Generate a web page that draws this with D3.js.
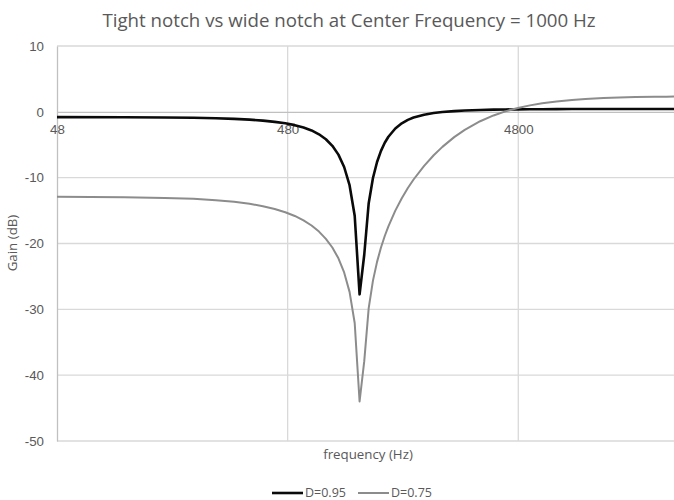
<!DOCTYPE html>
<html>
<head>
<meta charset="utf-8">
<script src="https://cdn.jsdelivr.net/npm/d3@7"></script>
<style>
  html, body { margin: 0; padding: 0; background: #ffffff; }
  svg { display: block; font-family: "Open Sans", "Liberation Sans", sans-serif; }
</style>
</head>
<body>
<svg id="chart" width="674" height="500"></svg>
<script>
// Frequency response samples (Hz) of the two notch filters, fs = 48 kHz
const freqHz = [
  46.875, 93.75, 140.625, 187.5, 234.375, 281.25, 328.125, 375, 421.875, 468.75,
  515.625, 562.5, 609.375, 656.25, 703.125, 750, 796.875, 843.75, 890.625, 937.5,
  984.375, 1031.25, 1078.125, 1125, 1171.875, 1218.75, 1265.625, 1312.5, 1406.25, 1500,
  1593.75, 1687.5, 1875, 2062.5, 2250, 2531.25, 2812.5, 3281.25, 3750, 4218.75,
  4781.25, 5390.625, 6093.75, 7031.25, 8203.125, 9375, 11250, 13125, 15468.75, 18750,
  21093.75, 24000
];

// Gain (dB) for the tight notch, D = 0.95
const gainD095 = [
  -0.80, -0.83, -0.86, -0.91, -0.98, -1.07, -1.19, -1.34, -1.52, -1.74,
  -2.02, -2.38, -2.83, -3.41, -4.16, -5.16, -6.50, -8.38, -11.15, -15.79,
  -27.72, -21.71, -13.88, -10.05, -7.62, -5.93, -4.70, -3.78, -2.53, -1.74,
  -1.22, -0.87, -0.43, -0.18, -0.03, 0.11, 0.20, 0.28, 0.33, 0.36,
  0.38, 0.39, 0.40, 0.41, 0.42, 0.43, 0.43, 0.44, 0.44, 0.44,
  0.44, 0.44
];

// Gain (dB) for the wide notch, D = 0.75
const gainD075 = [
  -12.90, -12.96, -13.07, -13.22, -13.42, -13.67, -13.97, -14.33, -14.75, -15.25,
  -15.82, -16.49, -17.27, -18.19, -19.29, -20.61, -22.25, -24.39, -27.35, -32.08,
  -44.00, -37.87, -29.81, -25.64, -22.79, -20.61, -18.86, -17.39, -15.01, -13.13,
  -11.58, -10.28, -8.20, -6.59, -5.32, -3.84, -2.74, -1.43, -0.55, 0.07,
  0.59, 0.98, 1.30, 1.58, 1.81, 1.95, 2.10, 2.19, 2.25, 2.30,
  2.31, 2.32
];

const seriesNames = ["D=0.95", "D=0.75"];
const yTicks = [10, 0, -10, -20, -30, -40, -50];
const xTickLabels = [48, 480, 4800];
const titleText = "Tight notch vs wide notch at Center Frequency = 1000 Hz";
const xTitle = "frequency (Hz)";
const yTitle = "Gain (dB)";

const svg = d3.select("#chart");
const plot = { left: 57, right: 679.5, top: 46, bottom: 441 };
const textColor = "#595959";
const plainNumber = d => String(d);

const x = d3.scaleLog().domain([48, 24000]).range([plot.left, plot.right]);
const y = d3.scaleLinear().domain([-50, 10]).range([plot.bottom, plot.top]);

// Clip region for the plot area
svg.append("defs").append("clipPath").attr("id", "plotClip")
  .append("rect")
  .attr("x", plot.left).attr("y", plot.top - 2)
  .attr("width", plot.right - plot.left).attr("height", plot.bottom - plot.top + 4);

// Horizontal gridlines
svg.append("g").selectAll("line")
  .data(yTicks.filter(d => d !== 0))
  .join("line")
  .attr("x1", plot.left).attr("x2", plot.right)
  .attr("y1", d => y(d)).attr("y2", d => y(d))
  .attr("stroke", "#d9d9d9").attr("stroke-width", 1.3);

// Vertical gridlines at each decade
svg.append("g").selectAll("line")
  .data(xTickLabels.slice(1))
  .join("line")
  .attr("x1", d => x(d)).attr("x2", d => x(d))
  .attr("y1", plot.top).attr("y2", plot.bottom)
  .attr("stroke", "#d9d9d9").attr("stroke-width", 1.3);

// Value axis
const yAxis = svg.append("g")
  .attr("transform", `translate(${plot.left},0)`)
  .call(d3.axisLeft(y).tickValues(yTicks).tickSize(0).tickPadding(13).tickFormat(plainNumber));
yAxis.select(".domain").attr("stroke", "#c0c0c0").attr("stroke-width", 1.3);
yAxis.selectAll("text").attr("fill", textColor).style("font-size", "13.3px");

// Frequency axis, crossing at 0 dB
const xAxis = svg.append("g")
  .attr("transform", `translate(0,${y(0)})`)
  .call(d3.axisBottom(x).tickValues(xTickLabels).tickSize(0).tickPadding(13).tickFormat(plainNumber));
xAxis.select(".domain").attr("stroke", "#c0c0c0").attr("stroke-width", 1.3);
xAxis.selectAll("text").attr("fill", textColor).style("font-size", "13.3px");

// Response curves
const styles = [
  { color: "#0a0a0a", width: 2.6 },
  { color: "#8c8c8c", width: 2.0 }
];
const series = [gainD095, gainD075];
const line = d3.line()
  .x((d, i) => x(freqHz[i]))
  .y(d => y(d));

const curves = svg.append("g").attr("clip-path", "url(#plotClip)");
series.forEach((vals, s) => {
  curves.append("path")
    .datum(vals)
    .attr("fill", "none")
    .attr("stroke", styles[s].color)
    .attr("stroke-width", styles[s].width)
    .attr("stroke-linejoin", "round")
    .attr("d", line);
});

// Title and axis titles
svg.append("text")
  .attr("x", 349).attr("y", 27)
  .attr("text-anchor", "middle")
  .attr("fill", textColor)
  .style("font-size", "18.7px")
  .text(titleText);

svg.append("text")
  .attr("x", 368).attr("y", 459)
  .attr("text-anchor", "middle")
  .attr("fill", textColor)
  .style("font-size", "13.3px")
  .text(xTitle);

svg.append("text")
  .attr("transform", "translate(17,243) rotate(-90)")
  .attr("text-anchor", "middle")
  .attr("fill", textColor)
  .style("font-size", "13.3px")
  .text(yTitle);

// Legend
const legend = svg.append("g");
const legendX = [272, 358];
seriesNames.forEach((name, s) => {
  const g = legend.append("g").attr("transform", `translate(${legendX[s]},493)`);
  g.append("line")
    .attr("x1", 0).attr("x2", 31)
    .attr("stroke", styles[s].color)
    .attr("stroke-width", styles[s].width);
  g.append("text")
    .attr("x", 33).attr("dy", "0.35em")
    .attr("fill", textColor)
    .style("font-size", "12.5px")
    .text(name);
});
</script>
</body>
</html>
